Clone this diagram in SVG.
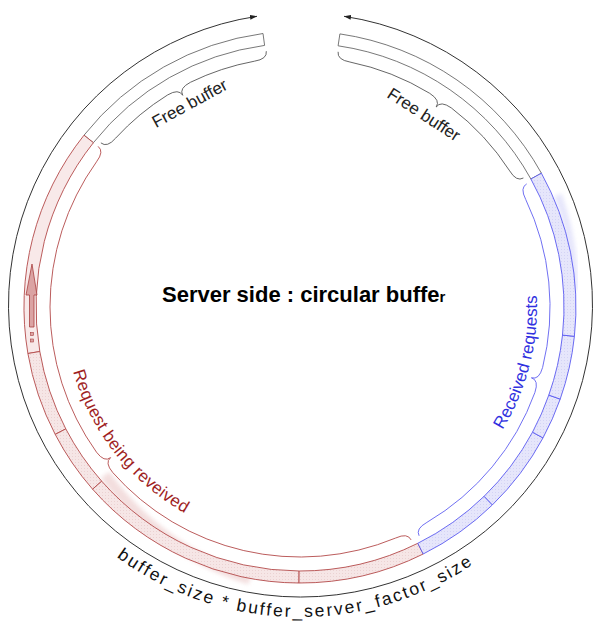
<svg xmlns="http://www.w3.org/2000/svg" width="597" height="628" viewBox="0 0 597 628">
<style>
.free{fill:#fff;stroke:#555;stroke-width:0.8}
.red{stroke:#b34a4a;stroke-width:0.9}
.blue{stroke:#5a5af0;stroke-width:0.9}
.brace{fill:none;stroke-width:0.9}
.gb{stroke:#555}
.rb{stroke:#b34a4a}
.bb{stroke:#6060f0}
.lbl{font-family:"Liberation Sans",Arial,sans-serif}
</style>
<defs>
<marker id="ah" viewBox="0 0 10 10" refX="10" refY="5" markerWidth="7" markerHeight="7" orient="auto-start-reverse" markerUnits="userSpaceOnUse"><path d="M0,1.5 L10,5 L0,8.5 Z" fill="#222"/></marker>
<pattern id="pr" width="3" height="3" patternUnits="userSpaceOnUse"><rect width="3" height="3" fill="#f6e6e6"/><rect width="1" height="1" fill="#ebd2d2"/></pattern>
<pattern id="pb" width="3" height="3" patternUnits="userSpaceOnUse"><rect width="3" height="3" fill="#e6e6fb"/><rect width="1" height="1" fill="#d4d4f5"/></pattern>
<filter id="blur" x="-20%" y="-20%" width="140%" height="140%"><feGaussianBlur stdDeviation="2"/></filter>
<path id="tpBottom" d="M62.5,506.3 A310,310 0 0 0 537.5,506.3"/>
<path id="tpRed" d="M64.9,327.6 A236,236 0 0 0 238.9,535.0"/>
<path id="tpBlue" d="M452.3,488.5 A237,237 0 0 0 522.7,225.9"/>
</defs>

<!-- smears -->
<path d="M105,475 A277,277 0 0 0 250,579" fill="none" stroke="#f0d6d6" stroke-width="11" opacity="0.8" filter="url(#blur)"/>
<path d="M558,195 A277,277 0 0 1 574,290" fill="none" stroke="#e0e0fa" stroke-width="8" opacity="0.8" filter="url(#blur)"/>

<g id="connectors">
<path d="M344,16.3 A292,292 0 1 1 257,16.3" fill="none" stroke="#333" stroke-width="1" marker-start="url(#ah)" marker-end="url(#ah)"/>
</g>

<g id="buffer">
<path id="free-left" class="free" d="M84.0,135.2 A276,276 0 0 1 263.0,33.5 L264.6,45.4 A264,264 0 0 0 93.4,142.7 Z"/>
<path id="free-right" class="free" d="M339.9,33.9 A276,276 0 0 1 541.4,173.2 L530.9,179.0 A264,264 0 0 0 338.1,45.8 Z"/>
<path class="red" fill="#f8e9e9" d="M27.9,353.5 A276,276 0 0 1 84.0,135.2 L93.4,142.7 A264,264 0 0 0 39.8,351.5 Z"/>
<path class="red" fill="url(#pr)" d="M55.2,434.4 A276,276 0 0 1 27.9,353.5 L39.8,351.5 A264,264 0 0 0 65.8,428.9 Z"/>
<path class="red" fill="url(#pr)" d="M92.6,489.2 A276,276 0 0 1 55.2,434.4 L65.8,428.9 A264,264 0 0 0 101.7,481.2 Z"/>
<path class="red" fill="url(#pr)" d="M299.0,583.0 A276,276 0 0 1 92.6,489.2 L101.7,481.2 A264,264 0 0 0 299.1,571.0 Z"/>
<path class="red" fill="url(#pr)" d="M423.2,554.0 A276,276 0 0 1 299.0,583.0 L299.1,571.0 A264,264 0 0 0 417.8,543.3 Z"/>
<path class="blue" fill="url(#pb)" d="M492.4,504.9 A276,276 0 0 1 423.2,554.0 L417.8,543.3 A264,264 0 0 0 484.1,496.3 Z"/>
<path class="blue" fill="url(#pb)" d="M543.0,437.9 A276,276 0 0 1 492.4,504.9 L484.1,496.3 A264,264 0 0 0 532.5,432.2 Z"/>
<path class="blue" fill="url(#pb)" d="M560.2,399.1 A276,276 0 0 1 543.0,437.9 L532.5,432.2 A264,264 0 0 0 548.8,395.1 Z"/>
<path class="blue" fill="url(#pb)" d="M574.4,336.3 A276,276 0 0 1 560.2,399.1 L548.8,395.1 A264,264 0 0 0 562.5,335.1 Z"/>
<path class="blue" fill="url(#pb)" d="M541.4,173.2 A276,276 0 0 1 574.4,336.3 L562.5,335.1 A264,264 0 0 0 530.9,179.0 Z"/>
</g>

<g id="read-arrow">
<path d="M32,264 L37,295 L34,295 L34,327 L29.5,327 L29.5,295 L26,295 Z" fill="#dba3a3" stroke="#a84040" stroke-width="0.8"/>
<rect x="30.5" y="332.5" width="3" height="3" fill="#dba3a3" stroke="#a84040" stroke-width="0.6"/>
<rect x="30.5" y="339" width="3" height="3" fill="#dba3a3" stroke="#a84040" stroke-width="0.6"/>
</g>

<g id="brace-free-left">
<path class="brace gb" d="M100.9,142.9 Q107.1,148.0 115.7,138.1 A250,250 0 0 1 167.5,95.0 Q178.8,88.3 182.7,95.3 Q178.8,88.3 190.4,82.3 A250,250 0 0 1 254.4,61.2 Q267.4,59.1 266.3,51.2"/>
<text class="lbl" font-size="17" fill="#222" text-anchor="middle" transform="translate(190,104) rotate(-28.5)" y="5">Free buffer</text>
</g>

<g id="brace-free-right">
<path class="brace gb" d="M338.1,51.8 Q337.0,59.7 349.9,62.0 A250,250 0 0 1 429.7,93.3 Q440.7,100.4 436.2,107.0 Q440.7,100.4 451.3,107.9 A250,250 0 0 1 509.7,170.9 Q516.5,182.0 523.4,178.0"/>
<text class="lbl" font-size="17" fill="#222" text-anchor="middle" transform="translate(423.5,115) rotate(33)" y="5">Free buffer</text>
</g>

<g id="brace-request">
<path class="brace rb" d="M411.1,539.9 Q407.6,532.6 395.7,538.0 A250,250 0 0 1 112.8,472.6 Q104.4,462.6 110.6,457.6 Q104.4,462.6 96.5,452.2 A250,250 0 0 1 96.5,161.8 Q104.4,151.4 98.1,146.4"/>
<text class="lbl" font-size="17" fill="#a01f1f" letter-spacing="0.3"><textPath href="#tpRed" startOffset="47.7%" text-anchor="middle">Request being reveived</textPath></text>
</g>

<g id="brace-received">
<path class="brace bb" d="M526.7,183.9 Q519.7,187.7 525.7,199.4 A250,250 0 0 1 542.6,367.5 Q539.1,380.1 531.4,377.8 Q539.1,380.1 534.9,392.5 A250,250 0 0 1 426.9,522.4 Q415.4,528.8 419.1,535.8"/>
<text class="lbl" font-size="17" fill="#3030e0"><textPath href="#tpBlue" startOffset="51.1%" text-anchor="middle">Received requests</textPath></text>
</g>

<g id="size-label">
<text class="lbl" font-size="17.5" fill="#111" letter-spacing="2.1"><textPath href="#tpBottom" startOffset="49%" text-anchor="middle">buffer_size * buffer_server_factor_size</textPath></text>
</g>

<g id="title">
<text class="lbl" x="162" y="302" font-size="22" font-weight="bold" fill="#000">Server side : circular buffe<tspan font-size="15">r</tspan></text>
</g>
</svg>
